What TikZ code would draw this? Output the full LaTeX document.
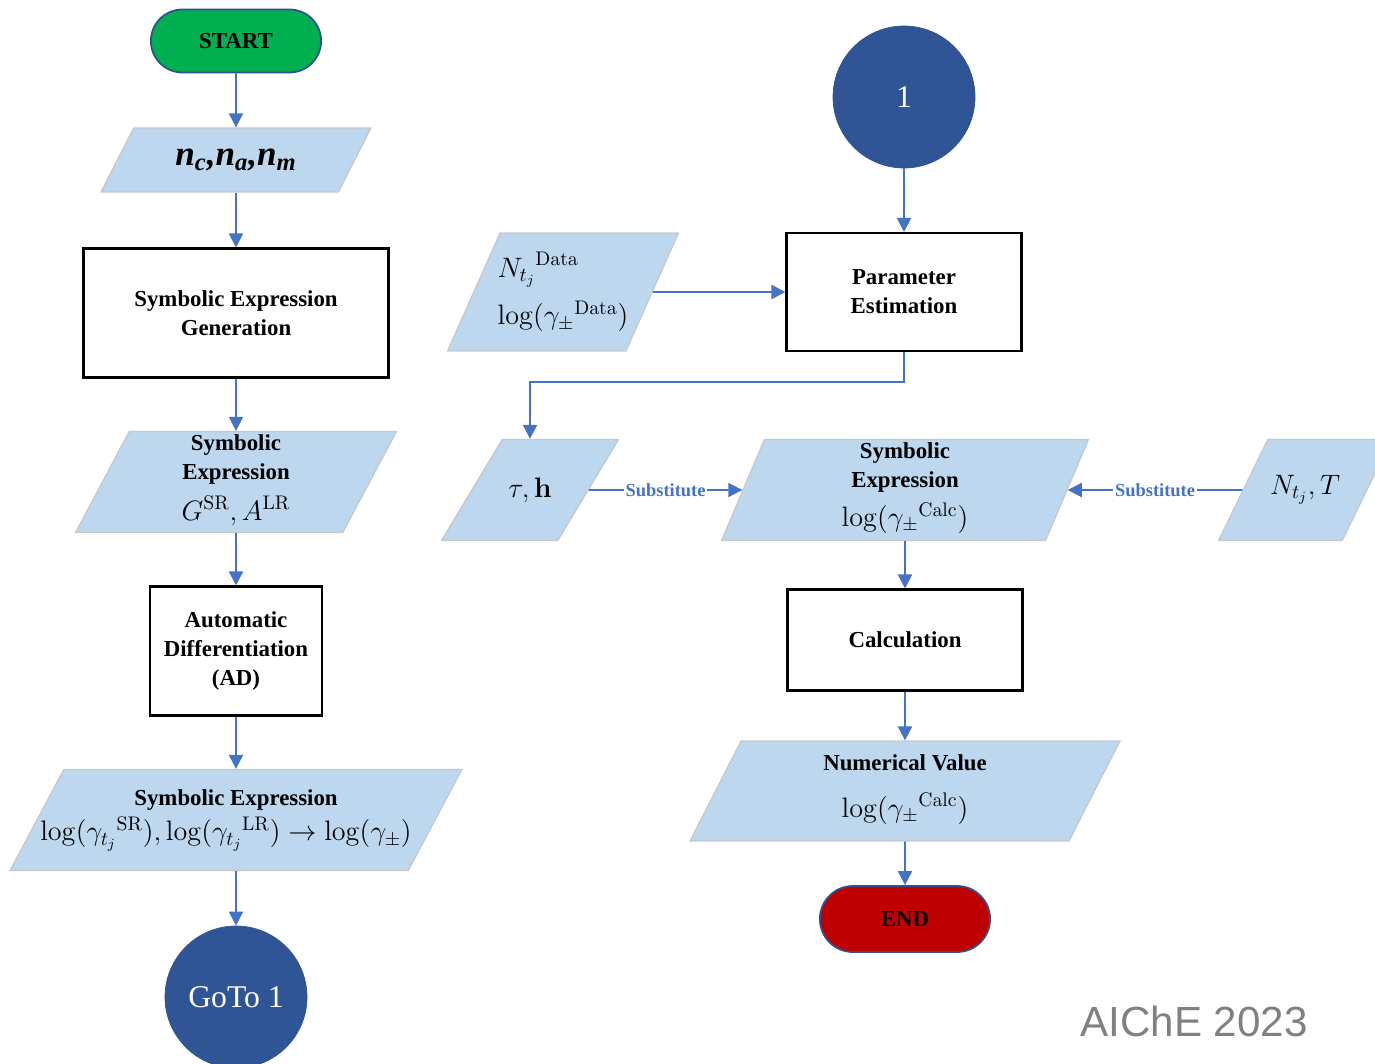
\RequirePackage{fix-cm}
\documentclass[tikz,border=0pt]{standalone}
\usepackage{amsmath}
\usepackage{amssymb}
\usepackage[no-math]{fontspec}
\setmainfont{Liberation Serif}
\newfontfamily\tagfont{Liberation Sans}
\usepackage{tikz}
\usetikzlibrary{arrows.meta}
\usetikzlibrary{shapes.geometric}
\usetikzlibrary{shapes.misc}
\usetikzlibrary{positioning}
\newcommand{\flowfont}{\fontsize{13}{16.4}\selectfont\bfseries}
\newcommand{\mbig}[1]{{\fontsize{16}{20}\selectfont$#1$}}
\definecolor{fblue}{RGB}{68, 114, 196}
\definecolor{ioblue}{RGB}{189, 215, 238}
\definecolor{ioedge}{RGB}{196, 200, 206}
\definecolor{linkblue}{RGB}{47, 85, 151}
\definecolor{rimblue}{RGB}{47, 82, 143}
\definecolor{sgreen}{RGB}{0, 176, 80}
\definecolor{ered}{RGB}{192, 0, 0}
\tikzset{proc/.style = {draw, line width = 1.2pt, align = center, font = \flowfont}}
\tikzset{inout/.style = {trapezium, trapezium left angle = 63, trapezium right angle = 117,
    trapezium stretches body, fill = ioblue, draw = ioedge, line width = 0.7pt,
    inner sep = 0pt, text depth = 0pt}}
\tikzset{iotext/.style = {align = center, inner sep = 0pt, font = \flowfont}}
\tikzset{term/.style = {rounded rectangle, draw = rimblue, line width = 1pt,
    minimum width = 3.64cm, minimum height = 1.26cm, font = \flowfont}}
\tikzset{pagelink/.style = {circle, fill = linkblue, draw = rimblue, minimum size = 2.84cm,
    text = white, font = \fontsize{18}{20}\selectfont}}
\tikzset{flow/.style = {draw = fblue, line width = 1.1pt, -{Triangle[length = 8pt, width = 8pt]}}}
\tikzset{sublbl/.style = {fill = white, inner sep = 1pt, text = fblue,
    font = \fontsize{10.5}{12}\selectfont\bfseries}}

\begin{document}
\begin{tikzpicture}[x = 0.02cm, y = -0.02cm]
    \useasboundingbox (0, 0) rectangle (1375, 1064);
    \clip (0, 0) rectangle (1375, 1064);

    % left column
    \node [term, fill = sgreen] (start) at (236, 41) {START};
    \node [inout, minimum width = 5.4cm, text height = 1.28cm,
      label = {[iotext]center:{\fontsize{20}{24}\selectfont\itshape n\textsubscript{c},n\textsubscript{a},n\textsubscript{m}}}]
      (nin) at (236, 160) {};
    \node [proc, minimum width = 6.1cm, minimum height = 2.58cm] (gen) at (236, 313)
      {Symbolic Expression\\Generation};
    \node [inout, minimum width = 6.42cm, text height = 2.02cm, trapezium left angle = 62,
      trapezium right angle = 118,
      label = {[iotext, yshift = 0.04cm]center:{Symbolic\\Expression\\[7pt]\mbig{G^{\mathrm{SR}},A^{\mathrm{LR}}}}}]
      (sexpr) at (236, 482) {};
    \node [proc, minimum width = 3.44cm, minimum height = 2.58cm] (ad) at (236, 651)
      {Automatic\\Differentiation\\(AD)};
    \node [inout, minimum width = 9.04cm, text height = 2.02cm, trapezium left angle = 62,
      trapezium right angle = 118,
      label = {[iotext]center:{Symbolic Expression\\[4pt]\mbig{\log({\gamma_{t_j}}^{\mathrm{SR}}),\log({\gamma_{t_j}}^{\mathrm{LR}})\rightarrow\log(\gamma_{\pm})}\hspace*{0.4cm}}}]
      (sfull) at (236, 820) {};
    \node [pagelink] (goto) at (236, 997) {GoTo 1};

    % right column
    \node [pagelink] (one) at (904, 97) {1};
    \node [proc, minimum width = 4.7cm, minimum height = 2.36cm] (pe) at (904, 292)
      {Parameter\\Estimation};
    \node [inout, minimum width = 4.62cm, text height = 2.36cm, trapezium left angle = 66,
      trapezium right angle = 114,
      label = {[iotext, align = left]center:{\mbig{{N_{t_j}}^{\mathrm{Data}}}\\[7pt]\mbig{\log({\gamma_{\pm}}^{\mathrm{Data}})}}}]
      (data) at (563, 292) {};
    \node [inout, minimum width = 3.54cm, text height = 2.02cm, trapezium left angle = 59,
      trapezium right angle = 121, label = {[iotext]center:\mbig{\tau,\mathbf{h}}}]
      (tauh) at (530, 490) {};
    \node [inout, minimum width = 7.34cm, text height = 2.02cm, trapezium left angle = 67,
      trapezium right angle = 113,
      label = {[iotext, yshift = 0.04cm]center:{Symbolic\\Expression\\[6pt]\mbig{\log({\gamma_{\pm}}^{\mathrm{Calc}})}}}]
      (scalc) at (905, 490) {};
    \node [inout, minimum width = 3.46cm, text height = 2.02cm, trapezium left angle = 64,
      trapezium right angle = 116, label = {[iotext]center:\mbig{N_{t_j},T}}]
      (nt) at (1305, 490) {};
    \node [proc, minimum width = 4.7cm, minimum height = 2.02cm] (calc) at (905, 640)
      {Calculation};
    \node [inout, minimum width = 8.6cm, text height = 2cm,
      label = {[iotext, yshift = 0.03cm]center:{Numerical Value\\[10pt]\mbig{\log({\gamma_{\pm}}^{\mathrm{Calc}})}}}]
      (numv) at (905, 791) {};
    \node [term, fill = ered, minimum height = 1.32cm] (fin) at (905, 919) {END};

    \node [text = gray, font = \tagfont\fontsize{24}{28}\selectfont] (tag) at (1194, 1021) {AIChE 2023};

    % connectors
    \draw [flow] (start) -- (nin);
    \draw [flow] (nin) -- (gen);
    \draw [flow] (gen) -- (sexpr);
    \draw [flow] (sexpr) -- (ad);
    \draw [flow] (ad) -- (sfull);
    \draw [flow] (sfull) -- (goto);

    \draw [flow] (one) -- (pe);
    \draw [flow] (data) -- (pe);
    \draw [flow] (pe.south) -- ++(0, 30) -| (tauh);
    \draw [flow] (tauh) -- node [sublbl] {Substitute} (scalc);
    \draw [flow] (nt) -- node [sublbl] {Substitute} (scalc);
    \draw [flow] (scalc) -- (calc);
    \draw [flow] (calc) -- (numv);
    \draw [flow] (numv) -- (fin);
  \end{tikzpicture}
\end{document}
